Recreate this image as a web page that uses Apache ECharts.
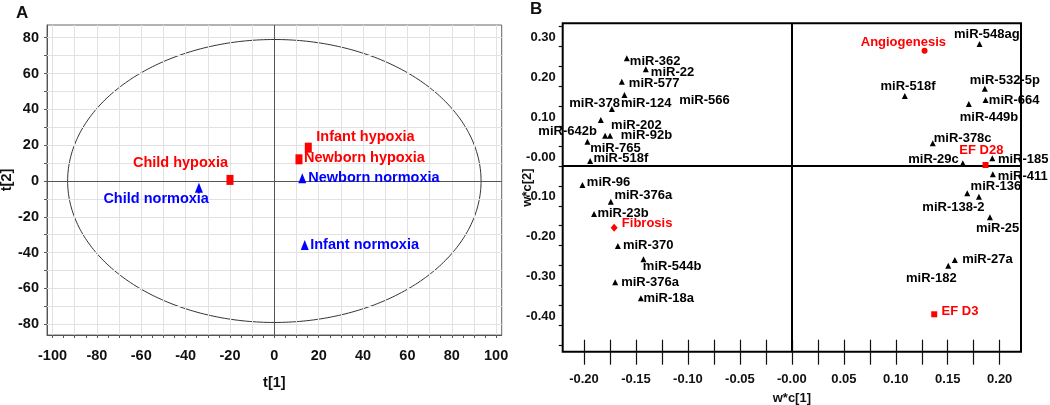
<!DOCTYPE html>
<html><head><meta charset="utf-8">
<script src="https://cdn.jsdelivr.net/npm/echarts@6/dist/echarts.min.js"></script>
<style>html,body{margin:0;padding:0;background:#fff}#c{width:1050px;height:405px}</style>
</head><body><div id="c"></div>
<script>
// ---------- Panel A: scores t[1] / t[2] ----------
const hypoxiaNames = ['Child hypoxia', 'Infant hypoxia', 'Newborn hypoxia'];
const hypoxiaT1 = [-20.0, 15.3, 11.1];
const hypoxiaT2 = [0.6, 18.6, 12.1];
const normoxiaNames = ['Child normoxia', 'Newborn normoxia', 'Infant normoxia'];
const normoxiaT1 = [-34.0, 12.6, 13.7];
const normoxiaT2 = [-3.8, 1.5, -35.7];
// Hotelling T2 ellipse semi-axes
const ellipseT1 = 93.2;
const ellipseT2 = 79.0;
const ticksAx = [-100,-95,-90,-85,-80,-75,-70,-65,-60,-55,-50,-45,-40,-35,-30,-25,-20,-15,-10,-5,0,5,10,15,20,25,30,35,40,45,50,55,60,65,70,75,80,85,90,95,100];
const gridAx = [-100,-90,-80,-70,-60,-50,-40,-30,-20,-10,10,20,30,40,50,60,70,80,90,100];
const labelsAx = [-100,-80,-60,-40,-20,0,20,40,60,80,100];
const ticksAy = [-80,-70,-60,-50,-40,-30,-20,-10,0,10,20,30,40,50,60,70,80];
const gridAy = [-80,-70,-60,-50,-40,-30,-20,-10,10,20,30,40,50,60,70,80];
const labelsAy = [-80,-60,-40,-20,0,20,40,60,80];

// ---------- Panel B: loadings w*c[1] / w*c[2] ----------
const mirNames = ['miR-362','miR-22','miR-577','miR-378','miR-124','miR-566','miR-642b','miR-202','miR-92b','miR-765','miR-518f','miR-96','miR-376a','miR-23b','miR-370','miR-544b','miR-376a','miR-18a','miR-548ag','miR-518f','miR-532-5p','miR-664','miR-449b','miR-378c','miR-29c','miR-185','miR-411','miR-136','miR-138-2','miR-25','miR-27a','miR-182'];
const mirWc1 = [-0.1588,-0.1405,-0.1636,-0.1732,-0.1611,-0.1113,-0.1838,-0.1797,-0.1749,-0.1967,-0.1941,-0.2015,-0.1742,-0.1903,-0.1674,-0.1428,-0.1700,-0.1453,0.1806,0.1087,0.1857,0.1864,0.1703,0.1356,0.1645,0.1929,0.1934,0.1688,0.1800,0.1906,0.1568,0.1505];
const mirWc2 = [0.2706,0.2430,0.2118,0.1432,0.1784,0.1658,0.1156,0.0761,0.0761,0.0611,0.0126,-0.0477,-0.0897,-0.1206,-0.2010,-0.2344,-0.2922,-0.3324,0.3065,0.1759,0.1942,0.1658,0.1558,0.0570,0.0068,0.0193,-0.0209,-0.0686,-0.0771,-0.1289,-0.2362,-0.2505];
const traitNames = ['Angiogenesis','Fibrosis','EF D28','EF D3'];
const traitWc1 = [0.1277,-0.1710,0.1864,0.1370];
const traitWc2 = [0.2897,-0.1550,0.0025,-0.3726];
const ticksBx = [-0.2,-0.175,-0.15,-0.125,-0.1,-0.075,-0.05,-0.025,0,0.025,0.05,0.075,0.1,0.125,0.15,0.175,0.2];
const labelsBx = [-0.2,-0.15,-0.1,-0.05,0,0.05,0.1,0.15,0.2];
const labelTextBx = ['-0.20','-0.15','-0.10','-0.05','-0.00','0.05','0.10','0.15','0.20'];
const ticksBy = [-0.45,-0.4,-0.35,-0.3,-0.25,-0.2,-0.15,-0.1,-0.05,0,0.05,0.1,0.15,0.2,0.25,0.3,0.35];
const labelsBy = [-0.4,-0.3,-0.2,-0.1,0,0.1,0.2,0.3];
const labelTextBy = ['-0.40','-0.30','-0.20','-0.10','-0.00','0.10','0.20','0.30'];

// ---------- label placement (align, dx, dy) ----------
const placeHypoxia = [['right',-2,-17],['left',8,-11],['left',5,-1]];
const placeNormoxia = [['right',10,11],['left',6,-0.5],['left',5.5,0]];
const placeMir = [['left',3,3],['left',5,3],['left',7,2],['right',8,-6],['left',-3.5,8],['left',3,0],['right',-4,11],['left',6,-10],['left',10.7,0],['left',2.7,6.6],['left',3.3,-2.7],['left',4.4,-3],['left',3.6,-6],['left',3.3,-0.7],['left',5,-0.7],['left',-0.6,7.4],['left',6,0],['left',2.6,0],['center',7.3,-10],['center',3.2,-9.3],['center',20,-8],['left',3.3,0],['center',20.2,13.3],['left',1,-5],['right',-4,-4.3],['left',5.6,0.7],['left',5,2.4],['left',3.3,-6.6],['center',-25.5,11],['center',7.7,11],['left',7.4,-0.7],['center',-16.9,12.6]];
const placeTrait = [['center',-21.2,-8],['left',7.7,-4.4],['center',-4.2,-15],['left',7.3,-3.3]];
const traitSymbols = ['circle','diamond','rect','rect'];
const traitSizes = [[6,6],[7,8],[6,6],[6,6]];
const hiddenMarker = ['miR-566'];

const FONT = "'Liberation Sans', Arial, Helvetica, sans-serif";
function lbl(p, color, size) {
  return {show: true, position: 'inside', align: p[0], verticalAlign: 'middle', offset: [p[1], p[2]],
          color: color, opacity: 1, fontFamily: FONT, fontWeight: 'bold', fontSize: size, formatter: '{b}',
          textBorderWidth: 0, textBorderColor: 'transparent', textShadowBlur: 0};
}
function items(names, xs, ys, place, color, size) {
  return names.map((n, i) => ({name: n, value: [xs[i], ys[i]], label: lbl(place[i], color, size)}));
}
function lookup(vals, texts) {
  return v => { for (let i = 0; i < vals.length; i++) if (Math.abs(v - vals[i]) < 1e-9) return texts[i]; return ''; };
}
const axisTextA = {fontFamily: FONT, fontWeight: 'bold', fontSize: 14.5, color: '#111'};
const axisTextB = {fontFamily: FONT, fontWeight: 'bold', fontSize: 13, color: '#111'};

const mirData = items(mirNames, mirWc1, mirWc2, placeMir, '#000', 13).map(d =>
  hiddenMarker.includes(d.name) ? Object.assign(d, {symbolSize: 0}) : d);
const traitData = items(traitNames, traitWc1, traitWc2, placeTrait, '#ff0000', 13).map((d, i) =>
  Object.assign(d, {symbol: traitSymbols[i], symbolSize: traitSizes[i]}));

const chart = echarts.init(document.getElementById('c'), null, {renderer: 'canvas'});
chart.setOption({
  animation: false,
  backgroundColor: '#fff',
  title: [
    {text: 'A', left: 11, top: 0, textStyle: {fontFamily: FONT, fontWeight: 'bold', fontSize: 17, color: '#111'}},
    {text: 'B', left: 525, top: -4, textStyle: {fontFamily: FONT, fontWeight: 'bold', fontSize: 17, color: '#111'}}
  ],
  grid: [
    {left: 47, top: 25, right: 548.3, bottom: 70, show: true, borderColor: '#666', borderWidth: 1, outerBoundsMode: 'none', containLabel: false},
    {left: 562.7, top: 23.3, right: 29, bottom: 53.3, show: true, borderColor: '#000', borderWidth: 2, outerBoundsMode: 'none', containLabel: false}
  ],
  xAxis: [
    {gridIndex: 0, type: 'value', min: -102.5, max: 102.5, position: 'bottom',
     name: 't[1]', nameLocation: 'middle', nameGap: 40, nameMoveOverlap: false, nameTextStyle: axisTextA,
     axisLine: {show: true, onZero: false, lineStyle: {color: '#555'}},
     axisTick: {show: true, customValues: ticksAx, length: 3, lineStyle: {color: '#555'}},
     axisLabel: Object.assign({customValues: labelsAx, margin: 13, formatter: v => String(v)}, axisTextA),
     splitLine: {show: false}},
    {gridIndex: 1, type: 'value', min: -0.2205, max: 0.2205, position: 'bottom',
     name: 'w*c[1]', nameLocation: 'middle', nameGap: 40, nameMoveOverlap: false, nameTextStyle: axisTextB,
     axisLine: {show: false, onZero: false},
     axisTick: {show: true, customValues: ticksBx, length: 13, lineStyle: {color: '#111', width: 1.2}},
     axisLabel: Object.assign({customValues: labelsBx, margin: 21, formatter: lookup(labelsBx, labelTextBx)}, axisTextB),
     splitLine: {show: false}},
    {gridIndex: 1, type: 'value', min: -0.2205, max: 0.2205, position: 'bottom', offset: 0,
     axisLine: {show: false, onZero: false},
     axisTick: {show: true, inside: true, customValues: ticksBx, length: 12, lineStyle: {color: '#111', width: 1.2}},
     axisLabel: {show: false}, splitLine: {show: false}}
  ],
  yAxis: [
    {gridIndex: 0, type: 'value', min: -86, max: 87.1, position: 'left',
     name: 't[2]', nameLocation: 'middle', nameGap: 33, nameMoveOverlap: false, nameTextStyle: axisTextA,
     axisLine: {show: true, onZero: false, lineStyle: {color: '#555'}},
     axisTick: {show: true, customValues: ticksAy, length: 3, lineStyle: {color: '#555'}},
     axisLabel: Object.assign({customValues: labelsAy, margin: 8, formatter: v => String(v)}, axisTextA),
     splitLine: {show: false}},
    {gridIndex: 1, type: 'value', min: -0.4666, max: 0.3585, position: 'left',
     name: 'w*c[2]', nameLocation: 'middle', nameGap: 29, nameMoveOverlap: false, nameTextStyle: axisTextB,
     axisLine: {show: false, onZero: false},
     axisTick: {show: true, customValues: ticksBy, length: 4, lineStyle: {color: '#111', width: 1.2}},
     axisLabel: Object.assign({customValues: labelsBy, margin: 7, verticalAlign: 'bottom', lineHeight: 14,
       padding: [0, 0, 2, 0], formatter: lookup(labelsBy, labelTextBy)}, axisTextB),
     splitLine: {show: false}}
  ],
  series: [
    // Panel A grid lines and zero lines
    {type: 'scatter', xAxisIndex: 0, yAxisIndex: 0, data: [], silent: true, z: 1,
     markLine: {silent: true, symbol: 'none', label: {show: false}, animation: false,
       lineStyle: {color: '#e2e2e2', width: 1, type: 'solid', opacity: 1},
       data: gridAx.map(v => ({xAxis: v})).concat(gridAy.map(v => ({yAxis: v})))}},
    {type: 'scatter', xAxisIndex: 0, yAxisIndex: 0, data: [], silent: true, z: 2,
     markLine: {silent: true, symbol: 'none', label: {show: false}, animation: false,
       lineStyle: {color: '#555', width: 1, type: 'solid', opacity: 1},
       data: [{xAxis: 0}, {yAxis: 0}]}},
    // Hotelling ellipse
    {type: 'custom', xAxisIndex: 0, yAxisIndex: 0, data: [[0, 0]], silent: true, z: 3,
     renderItem: (params, api) => {
       const pts = [];
       for (let k = 0; k <= 360; k++) {
         const t = k * Math.PI / 180;
         pts.push(api.coord([ellipseT1 * Math.cos(t), ellipseT2 * Math.sin(t)]));
       }
       return {type: 'polyline', shape: {points: pts}, style: {stroke: '#333', lineWidth: 1, fill: null}};
     }},
    {type: 'scatter', name: 'hypoxia', xAxisIndex: 0, yAxisIndex: 0, z: 5,
     symbol: 'rect', symbolSize: [7, 10], itemStyle: {color: '#ff0000', opacity: 1},
     data: items(hypoxiaNames, hypoxiaT1, hypoxiaT2, placeHypoxia, '#ff0000', 14.5)},
    {type: 'scatter', name: 'normoxia', xAxisIndex: 0, yAxisIndex: 0, z: 5,
     symbol: 'triangle', symbolSize: [8, 10], itemStyle: {color: '#0000ff', opacity: 1},
     data: items(normoxiaNames, normoxiaT1, normoxiaT2, placeNormoxia, '#0000ff', 14.5)},
    // Panel B zero lines
    {type: 'scatter', xAxisIndex: 1, yAxisIndex: 1, data: [], silent: true, z: 2,
     markLine: {silent: true, symbol: 'none', label: {show: false}, animation: false,
       lineStyle: {color: '#000', width: 2, type: 'solid', opacity: 1},
       data: [{xAxis: 0}, {yAxis: 0}]}},
    {type: 'scatter', name: 'miRNA', xAxisIndex: 1, yAxisIndex: 1, z: 5,
     symbol: 'triangle', symbolSize: [6, 6], itemStyle: {color: '#000', opacity: 1},
     data: mirData},
    {type: 'scatter', name: 'traits', xAxisIndex: 1, yAxisIndex: 1, z: 6,
     itemStyle: {color: '#ff0000', opacity: 1},
     data: traitData}
  ]
});
</script></body></html>
